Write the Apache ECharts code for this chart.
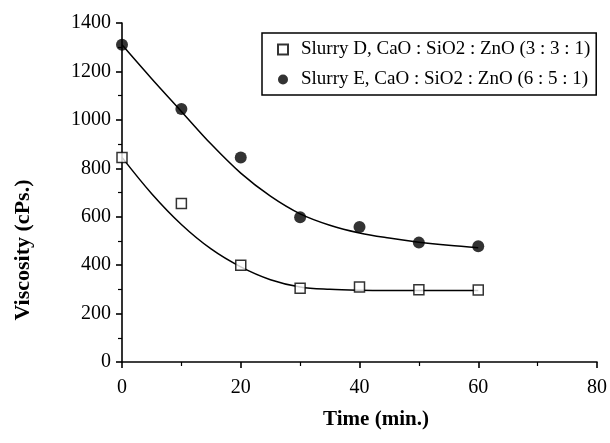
<!DOCTYPE html>
<html>
<head>
<meta charset="utf-8">
<script src="https://cdn.jsdelivr.net/npm/echarts@6/dist/echarts.min.js"></script>
<style>html,body{margin:0;padding:0;background:#fff}#c{width:610px;height:443px}</style>
</head>
<body>
<div id="c"></div>
<script>
var timeD = [0, 10, 20, 30, 40, 50, 60];
var slurryD = [845, 655, 400, 305, 310, 298, 297];
var timeE = [0, 10, 20, 30, 40, 50, 60];
var slurryE = [1310, 1045, 845, 598, 558, 493, 478];
var fitTime = [0, 5, 10, 15, 20, 25, 30, 35, 40, 45, 50, 55, 60];
var fitD = [845, 695, 568, 467, 393, 340, 310, 300, 296, 295, 295, 295, 295];
var fitE = [1310, 1170, 1035, 900, 780, 685, 612, 565, 533, 512, 495, 482, 472];
var nameD = 'Slurry D, CaO : SiO2 : ZnO (3 : 3 : 1)';
var nameE = 'Slurry E, CaO : SiO2 : ZnO (6 : 5 : 1)';
var xTitle = 'Time (min.)';
var yTitle = 'Viscosity (cPs.)';

function pairs(xs, ys) { return xs.map(function (x, i) { return [x, ys[i]]; }); }
var serif = 'Liberation Serif';
var chart = echarts.init(document.getElementById('c'), null, {renderer: 'canvas'});
var axisLineStyle = {color: '#000', width: 1.6};
chart.setOption({
  animation: false,
  backgroundColor: '#fff',
  grid: {left: 122, right: 13, top: 23, bottom: 81, containLabel: false},
  xAxis: {
    type: 'value', min: 0, max: 80, interval: 20,
    axisLine: {show: true, onZero: false, lineStyle: axisLineStyle},
    axisTick: {show: true, inside: false, length: 6, lineStyle: axisLineStyle},
    minorTick: {show: true, splitNumber: 2, length: 4, lineStyle: {color: '#000', width: 1.2}},
    splitLine: {show: false},
    axisLabel: {color: '#000', fontFamily: serif, fontSize: 20, margin: 16, formatter: function (v) { return String(v); }}
  },
  yAxis: {
    type: 'value', min: 0, max: 1400, interval: 200,
    axisLine: {show: true, onZero: false, lineStyle: axisLineStyle},
    axisTick: {show: true, inside: false, length: 6, lineStyle: axisLineStyle},
    minorTick: {show: true, splitNumber: 2, length: 4, lineStyle: {color: '#000', width: 1.2}},
    splitLine: {show: false},
    axisLabel: {color: '#000', fontFamily: serif, fontSize: 20, margin: 11, formatter: function (v) { return String(v); }}
  },
  legend: {
    data: [nameD, nameE],
    orient: 'vertical',
    left: 262, top: 33,
    padding: [7, 6, 6, 15],
    itemGap: 11,
    itemWidth: 10, itemHeight: 10,
    borderColor: '#000', borderWidth: 1.5,
    textStyle: {color: '#000', fontFamily: serif, fontSize: 19, padding: [0, 0, 0, 8]}
  },
  graphic: [
    {type: 'text', x: 376, y: 420, style: {text: xTitle, fill: '#000', font: 'bold 21px "Liberation Serif"', textAlign: 'center', textVerticalAlign: 'middle'}},
    {type: 'text', x: 23, y: 250, rotation: Math.PI / 2, style: {text: yTitle, fill: '#000', font: 'bold 22px "Liberation Serif"', textAlign: 'center', textVerticalAlign: 'middle'}}
  ],
  series: [
    {type: 'line', data: pairs(fitTime, fitD), smooth: 0.35, showSymbol: false, symbol: 'none',
     lineStyle: {color: '#000', width: 1.5}, silent: true, z: 2},
    {type: 'line', data: pairs(fitTime, fitE), smooth: 0.35, showSymbol: false, symbol: 'none',
     lineStyle: {color: '#000', width: 1.5}, silent: true, z: 2},
    {name: nameD, type: 'scatter', data: pairs(timeD, slurryD), symbol: 'rect', symbolSize: 10,
     itemStyle: {color: '#fff', borderColor: '#000', borderWidth: 1.5}, z: 3},
    {name: nameE, type: 'scatter', data: pairs(timeE, slurryE), symbol: 'circle', symbolSize: 12,
     itemStyle: {color: '#000'}, z: 3}
  ]
});
</script>
</body>
</html>
